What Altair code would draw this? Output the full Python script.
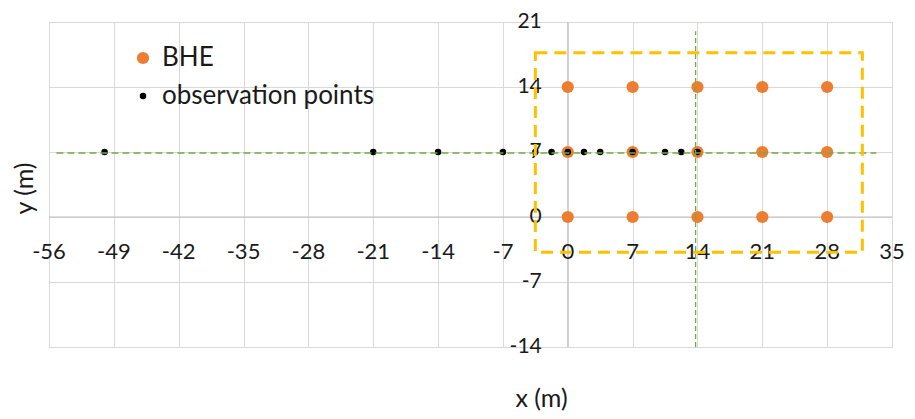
import altair as alt
import pandas as pd

# ---- data ----
bhe_x = [0, 7, 14, 21, 28, 0, 7, 14, 21, 28, 0, 7, 14, 21, 28]
bhe_y = [0, 0, 0, 0, 0, 7, 7, 7, 7, 7, 14, 14, 14, 14, 14]
obs_x = [-50, -21, -14, -7, -3.5, -1.75, 0, 1.75, 3.5, 7, 10.5, 12.25, 14]
obs_y = [7, 7, 7, 7, 7, 7, 7, 7, 7, 7, 7, 7, 7]
series = ["BHE", "observation points"]

x_ticks = [-56, -49, -42, -35, -28, -21, -14, -7, 0, 7, 14, 21, 28, 35]
x_labels = ["-56", "-49", "-42", "-35", "-28", "-21", "-14", "-7", "0", "7", "14", "21", "28", "35"]
y_ticks = [-14, -7, 0, 7, 14, 21]
y_labels = ["-14", "-7", "0", "7", "14", "21"]

rect_x = [-3.5, 31.8]
rect_y = [-3.8, 17.7]
hline_x = [-55.2, 33.3]
hline_y = [6.9]
vline_x = [13.8]
vline_y = [-14, 20]

FONT = "Lato"
TXT = "#1a1a1a"

pts = pd.DataFrame({
    "x": bhe_x + obs_x,
    "y": bhe_y + obs_y,
    "series": [series[0]] * len(bhe_x) + [series[1]] * len(obs_x),
})
xt = pd.DataFrame({"v": x_ticks, "t": x_labels, "z": [0] * len(x_ticks)})
yt = pd.DataFrame({"v": y_ticks, "t": y_labels, "z": [0] * len(y_ticks)})
rect = pd.DataFrame({"x": [rect_x[0]], "x2": [rect_x[1]], "y": [rect_y[0]], "y2": [rect_y[1]]})
hl = pd.DataFrame({"x": [hline_x[0]], "x2": [hline_x[1]], "y": hline_y})
vl = pd.DataFrame({"x": vline_x, "y": [vline_y[0]], "y2": [vline_y[1]]})
zero = pd.DataFrame({"z": [0]})

xs = alt.Scale(domain=[-56, 35], nice=False, zero=False)
ys = alt.Scale(domain=[-14, 21], nice=False, zero=False)

x_axis = alt.Axis(values=x_ticks, grid=True, labels=False, ticks=False, domain=False,
                  gridColor="#D9D9D9", gridWidth=1,
                  title="x (m)", titleFont=FONT, titleFontSize=25, titleFontWeight="normal",
                  titleColor=TXT, titleX=492, titleY=51, titleBaseline="middle")
y_axis = alt.Axis(values=y_ticks, grid=True, labels=False, ticks=False, domain=False,
                  gridColor="#D9D9D9", gridWidth=1,
                  title="y (m)", titleFont=FONT, titleFontSize=25, titleFontWeight="normal",
                  titleColor=TXT, titleX=-25, titleY=166, titleBaseline="middle")

base_grid = alt.Chart(zero).mark_rule(opacity=0).encode(
    x=alt.X("z:Q", scale=xs, axis=x_axis),
    y=alt.Y("z:Q", scale=ys, axis=y_axis),
)

zx = alt.Chart(zero).mark_rule(color="#BFBFBF", strokeWidth=1).encode(
    x=alt.X("z:Q", scale=xs))
zy = alt.Chart(zero).mark_rule(color="#BFBFBF", strokeWidth=1).encode(
    y=alt.Y("z:Q", scale=ys))

xlab = alt.Chart(xt).mark_text(font=FONT, fontSize=22, color=TXT, align="center",
                               baseline="middle", dy=35).encode(
    x=alt.X("v:Q", scale=xs), y=alt.Y("z:Q", scale=ys), text="t:N")
ylab = alt.Chart(yt).mark_text(font=FONT, fontSize=21, color=TXT, align="right",
                               baseline="middle", dx=-26).encode(
    x=alt.X("z:Q", scale=xs), y=alt.Y("v:Q", scale=ys), text="t:N")

leg = alt.Legend(title=None, orient="none", legendX=81, legendY=23,
                 labelFont=FONT, labelFontSize=26, labelColor=TXT, labelLimit=0,
                 rowPadding=12, labelOffset=6, symbolType="circle",
                 symbolStrokeWidth=0)

points = alt.Chart(pts).mark_circle(opacity=1).encode(
    x=alt.X("x:Q", scale=xs),
    y=alt.Y("y:Q", scale=ys),
    color=alt.Color("series:N", scale=alt.Scale(domain=series, range=["#ED7D31", "#000000"]), legend=leg),
    size=alt.Size("series:N", scale=alt.Scale(domain=series, range=[150, 42]), legend=leg),
)

green_h = alt.Chart(hl).mark_rule(color="#70AD47", strokeWidth=1.6, strokeDash=[7, 4]).encode(
    x=alt.X("x:Q", scale=xs), x2="x2:Q", y=alt.Y("y:Q", scale=ys))
green_v = alt.Chart(vl).mark_rule(color="#70AD47", strokeWidth=1.3, strokeDash=[5, 3]).encode(
    x=alt.X("x:Q", scale=xs), y=alt.Y("y:Q", scale=ys), y2="y2:Q")

yellow = alt.Chart(rect).mark_rect(fillOpacity=0, stroke="#FFC000", strokeWidth=3,
                                   strokeDash=[12, 7]).encode(
    x=alt.X("x:Q", scale=xs), x2="x2:Q", y=alt.Y("y:Q", scale=ys), y2="y2:Q")

chart = alt.layer(base_grid, zx, zy, xlab, ylab, points, green_h, green_v, yellow).properties(
    width=843, height=325,
    autosize=alt.AutoSizeParams(type="none"),
    padding={"left": 41, "top": 14, "right": 15, "bottom": 64},
).configure_view(stroke=None).configure(background="white")

chart.save("out.html", embed_options={"renderer": "svg", "actions": False})
